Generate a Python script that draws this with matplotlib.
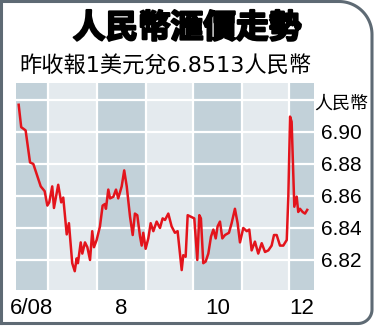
import numpy as np
import matplotlib.pyplot as plt
import matplotlib.patheffects as pe

plt.rcParams['font.family'] = ['Liberation Sans', 'Noto Sans CJK TC']

title = '人民幣滙價走勢'
subtitle = '昨收報1美元兌6.8513人民幣'
unit = '人民幣'

# 日數由 2008年6月1日起計
day = [11.4, 13.0, 15.8, 18.6, 20.7, 25.4, 27.9, 29.6, 30.8, 32.7,
       33.8, 36.5, 38.4, 39.7, 41.9, 43.3, 45.4, 47.0, 48.2, 49.0,
       50.8, 51.8, 53.5, 55.0, 56.7, 58.1, 59.2, 60.9, 63.0, 64.7,
       66.2, 66.8, 68.3, 69.4, 71.5, 73.2, 74.6, 76.8, 78.4, 80.0,
       82.1, 83.8, 85.2, 86.7, 88.4, 89.5, 90.5, 92.0, 93.7, 95.2,
       96.9, 99.0, 101.1, 102.8, 104.3, 106.4, 108.5, 110.6, 112.3, 113.8,
       114.9, 115.9, 117.4, 118.7, 120.8, 122.9, 124.8, 126.1, 127.1, 128.6,
       130.1, 131.8, 133.5, 135.0, 136.5, 137.7, 139.2, 140.7, 142.4, 144.9,
       146.6, 148.7, 150.4, 151.9, 154.0, 156.2, 157.8, 159.3, 161.4, 163.5,
       165.7, 167.8, 169.9, 172.0, 173.5, 175.2, 177.3, 179.4, 181.6, 182.6,
       183.7, 184.7, 186.4, 187.9, 188.9, 190.0, 191.7, 193.2, 194.6]
rate = [6.917, 6.903, 6.901, 6.881, 6.880, 6.866, 6.863, 6.854, 6.856, 6.866,
        6.8525, 6.867, 6.856, 6.859, 6.836, 6.843, 6.818, 6.813, 6.821, 6.818,
        6.831, 6.824, 6.831, 6.828, 6.820, 6.838, 6.828, 6.8325, 6.841, 6.854,
        6.855, 6.852, 6.864, 6.8585, 6.8595, 6.864, 6.8585, 6.866, 6.876, 6.866,
        6.847, 6.8356, 6.849, 6.848, 6.835, 6.829, 6.837, 6.827, 6.8335, 6.843,
        6.838, 6.844, 6.840, 6.846, 6.845, 6.849, 6.841, 6.837, 6.838, 6.824,
        6.8137, 6.823, 6.822, 6.848, 6.847, 6.846, 6.820, 6.848, 6.846, 6.818,
        6.819, 6.824, 6.8346, 6.839, 6.8335, 6.841, 6.844, 6.8335, 6.8356, 6.837,
        6.843, 6.852, 6.843, 6.831, 6.840, 6.838, 6.839, 6.826, 6.8315, 6.824,
        6.8305, 6.825, 6.826, 6.829, 6.8356, 6.8356, 6.829, 6.829, 6.8325, 6.8596,
        6.9096, 6.9064, 6.8533, 6.8596, 6.850, 6.852, 6.850, 6.849, 6.8513]

month_start = [30, 61, 92, 122, 153, 183]   # 7月1日 ... 12月1日
month_labels = ['6/08', '8', '10', '12']
yticks = [6.82, 6.84, 6.86, 6.88, 6.90, 6.92]
ytick_labels = ['6.82', '6.84', '6.86', '6.88', '6.90', '']

xmin, xmax = 9.7, 198.9
ymin, ymax = 6.80125, 6.9306

W, H = 374, 326
fig = plt.figure(figsize=(W / 100, H / 100), dpi=100)

# 外框 (右上、右下圓角)
bg = fig.add_axes([0, 0, 1, 1], zorder=-1)
bg.set_xlim(0, W)
bg.set_ylim(H, 0)
bg.axis('off')
x0, y0, x1, y1 = 1.5, 1.5, 372, 323.5
rt, rb = 33, 14
t = np.linspace(0, np.pi / 2, 30)
fx = np.concatenate([[x0, x0, x1 - rt], x1 - rt + rt * np.sin(t),
                     x1 - rb + rb * np.cos(t), [x0]])
fy = np.concatenate([[y1, y0, y0], y0 + rt - rt * np.cos(t),
                     y1 - rb + rb * np.sin(t), [y1]])
bg.plot(fx, fy, color='#5e6a74', lw=2.2, solid_joinstyle='miter')

ax = fig.add_axes([16 / W, 36 / H, 298 / W, 207 / H])
ax.set_xlim(xmin, xmax)
ax.set_ylim(ymin, ymax)

# 月份底色
edges = [xmin] + month_start + [xmax]
centers = []
for i in range(len(edges) - 1):
    dark = i % 2 == 0
    ax.axvspan(edges[i], edges[i + 1], color='#c2d1d9' if dark else '#e4eaee',
               lw=0, zorder=0)
    if dark:
        centers.append((edges[i] + edges[i + 1]) / 2)

ax.set_axisbelow('line')
ax.set_xticks(month_start, minor=True)
ax.set_xticks(centers, month_labels)
ax.set_yticks(yticks, ytick_labels)
ax.grid(which='minor', axis='x', color='white', lw=1.6)
ax.grid(which='major', axis='y', color='white', lw=1.6)
ax.grid(which='major', axis='x', visible=False)

ax.plot(day, rate, color='#e3141c', lw=1.8, zorder=3)

ax.yaxis.tick_right()
ax.tick_params(axis='y', length=0, pad=5, labelsize=15)
ax.tick_params(axis='x', which='both', length=0, pad=6, labelsize=16)
for s in ax.spines.values():
    s.set_visible(False)

fig.text(341 / W, 1 - 104 / H, unit, ha='center', va='center', fontsize=13)
fig.text(187 / W, 1 - 29 / H, title, ha='center', va='center',
         fontsize=23.5, fontweight='black',
         path_effects=[pe.withStroke(linewidth=1.6, foreground='black')])
fig.text(19 / W, 1 - 66 / H, subtitle, ha='left', va='center', fontsize=16,
         family=['DejaVu Sans', 'Noto Sans CJK TC'])

fig.savefig('out.png', dpi=100)
